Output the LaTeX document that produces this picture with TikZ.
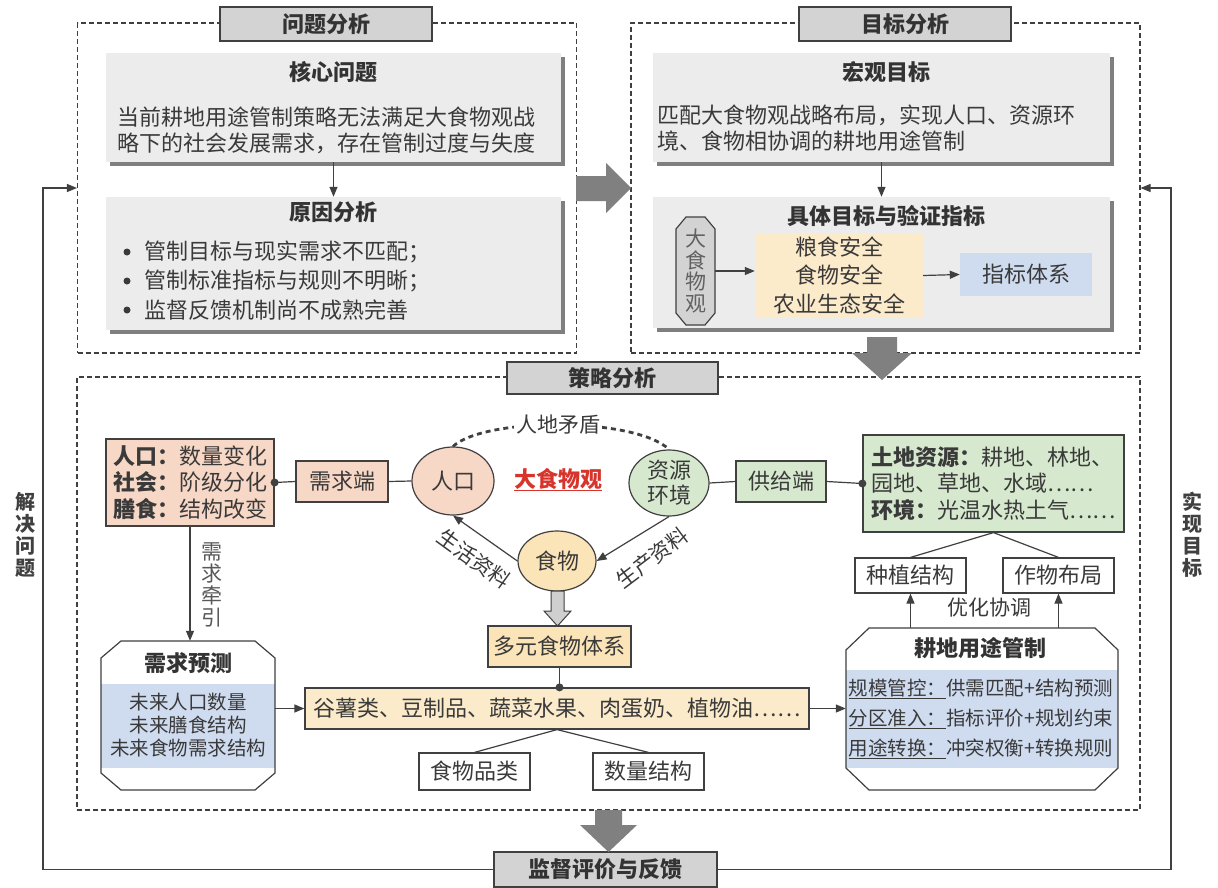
\documentclass[tikz,border=0pt]{standalone}
\usepackage{fontspec}
\setmainfont{Noto Sans CJK SC}
\usetikzlibrary{arrows.meta,calc,shapes.geometric,shadows}
\definecolor{tc}{HTML}{3A3A3A}
\definecolor{lc}{HTML}{404040}
\definecolor{tgray}{HTML}{D3D3D3}
\definecolor{pgray}{HTML}{ECECEC}
\definecolor{agray}{HTML}{808080}
\definecolor{pinkc}{HTML}{F7D7C6}
\definecolor{greenc}{HTML}{D6E9CE}
\definecolor{yelc}{HTML}{FCEBCB}
\definecolor{yeld}{HTML}{FBE4B8}
\definecolor{bluec}{HTML}{CFDBEF}
\definecolor{redc}{HTML}{D7342C}
\definecolor{hollowc}{HTML}{CFCFCF}
\newcommand\fsA{\fontsize{22}{26}\selectfont}
\begin{document}
\begin{tikzpicture}[x=1pt,y=-1pt,font=\fsA,text=tc,
  box/.style={draw=lc,line width=1.2pt,inner sep=0pt,align=center},
  ttl/.style={box,fill=tgray,font=\bfseries\fsA,text=black!80},
  dbox/.style={draw=lc,line width=1.1pt,dash pattern=on 5pt off 3pt,inner sep=0pt},
  panel/.style={fill=pgray,inner sep=0pt,drop shadow={shadow xshift=4pt,shadow yshift=-4pt,opacity=0.5,fill=black}},
  conn/.style={draw=lc,line width=1.2pt},
  arr/.style={conn,-{Triangle[length=10pt,width=8pt]}},
  elp/.style={ellipse,draw=lc,line width=1.2pt,inner sep=0pt,align=center},
  hd/.style={font=\bfseries\fsA,text=black!80,inner sep=0pt},
  plain/.style={inner sep=0pt,align=center},
  bigarr/.style={fill=agray},
  dotline/.style={draw=lc,line width=2.8pt,dash pattern=on 5pt off 4pt}]
\useasboundingbox (0,0) rectangle (1218,888);
\fill[white] (0,0) rectangle (1218,888);

% dashed frames
\node[dbox,minimum width=499pt,minimum height=330pt] (pa) at (327,188) {};
\node[dbox,minimum width=509pt,minimum height=330pt] (pb) at (885.5,188) {};
\node[dbox,minimum width=1063pt,minimum height=433pt] (ps) at (608.5,593.5) {};

% title boxes
\node[ttl,minimum width=212pt,minimum height=34pt] (ta) at (326,24) {问题分析};
\node[ttl,minimum width=212pt,minimum height=34pt] (tb) at (905,24) {目标分析};
\node[ttl,minimum width=211pt,minimum height=32pt] (ts) at (612.5,378) {策略分析};
\node[ttl,minimum width=223pt,minimum height=35pt] (sv) at (605.5,869.5) {监督评价与反馈};

% ---------- problem analysis ----------
\node[panel,minimum width=455pt,minimum height=109pt] (core) at (333.5,107.5) {};
\node[panel,minimum width=455pt,minimum height=133pt] (cause) at (333.5,263.5) {};
\node[hd] (coreT) at (333,72) {核心问题};
\node[plain] (coreX) at (326,130) {当前耕地用途管制策略无法满足大食物观战\\略下的社会发展需求，存在管制过度与失度};
\draw[arr] (core.south) -- (cause.north);
\node[hd] (causeT) at (333,212) {原因分析};
\fill[tc] (127,252) circle (3.5) (127,281) circle (3.5) (127,310) circle (3.5);
\node[plain,anchor=west] (b1) at (144,252) {管制目标与现实需求不匹配；};
\node[plain,anchor=west] (b2) at (144,281) {管制标准指标与规则不明晰；};
\node[plain,anchor=west] (b3) at (144,310) {监督反馈机制尚不成熟完善};

% big arrow right
\fill[bigarr] (576,176) -- (606,176) -- (606,163) -- (631,188) -- (606,213) -- (606,201) -- (576,201) -- cycle;

% ---------- goal analysis ----------
\node[panel,minimum width=457pt,minimum height=109pt] (macro) at (881.5,107.5) {};
\node[panel,minimum width=457pt,minimum height=131pt] (spec) at (881.5,262.5) {};
\node[hd] (macroT) at (886,72) {宏观目标};
\node[plain,anchor=west,align=left] (macroX) at (657,128.5) {匹配大食物观战略布局，实现人口、资源环\\境、食物相协调的耕地用途管制};
\draw[arr] (macro.south) -- (spec.north);
\node[hd] (specT) at (886,216) {具体目标与验证指标};
\draw[fill=tgray,draw=lc,line width=1.2pt] (686,217) -- (705,217) -- (715,229) -- (715,313) -- (705,325) -- (686,325) -- (676,313) -- (676,229) -- cycle;
\node[plain,minimum width=39pt,font=\fontsize{21}{21.5}\selectfont,text=black!62] (dsw) at (695.5,271) {大\\食\\物\\观};
\node[plain,fill=yelc,minimum width=168pt,minimum height=85pt,font=\fontsize{22}{28.5}\selectfont] (yb) at (839,275.5) {粮食安全\\食物安全\\农业生态安全};
\node[plain,fill=bluec,minimum width=132pt,minimum height=43pt] (ib) at (1026,274.5) {指标体系};
\draw[arr] (dsw.east) -- (dsw.east -| yb.west);
\draw[arr] (yb.east) -- (ib.west);

% big arrow down (top)
\fill[bigarr] (867,337) -- (897,337) -- (897,353) -- (912,353) -- (882,380) -- (852,353) -- (867,353) -- cycle;

% ---------- strategy analysis ----------
\node[box,fill=pinkc,minimum width=168pt,minimum height=87pt,align=left,font=\fontsize{22}{26.5}\selectfont] (pk) at (190,482.5) {{\bfseries 人口：}数量变化\\{\bfseries 社会：}阶级分化\\{\bfseries 膳食：}结构改变};
\node[box,fill=pinkc,minimum width=92pt,minimum height=41pt] (dem) at (342,481.5) {需求端};
\node[elp,fill=pinkc,minimum width=82pt,minimum height=68pt] (ppl) at (453,481) {人口};
\node[plain,text=redc,font=\bfseries\fsA] (dsg) at (558,479) {大食物观};
\draw[redc,line width=1pt] ($(dsg.center)+(-44,11)$) -- ($(dsg.center)+(44,11)$);
\node[elp,fill=greenc,minimum width=80pt,minimum height=66pt,font=\fontsize{22}{25}\selectfont] (res) at (669,483) {资源\\环境};
\node[box,fill=greenc,minimum width=90pt,minimum height=41pt] (sup) at (781,481.5) {供给端};
\node[box,fill=greenc,minimum width=261pt,minimum height=97pt,align=left,font=\fontsize{22}{26.5}\selectfont] (gr) at (993.5,483.5) {{\bfseries 土地资源：}耕地、林地、\\园地、草地、水域……\\{\bfseries 环境：}光温水热土气……};

\draw[conn] (pk.east) -- (dem.west);
\fill[lc] (pk.east) circle (4);
\draw[conn] (dem.east) -- (ppl.west);
\draw[conn] (res.east) -- (sup.west);
\draw[conn] (sup.east) -- (gr.west);
\fill[lc] (gr.west) circle (4);

\draw[dotline] (ppl.north) .. controls (485,417) and (635,417) .. (res.north);
\node[fill=white,inner sep=2pt,font=\fontsize{21}{24}\selectfont] (conf) at (558,425) {人地矛盾};

\node[elp,fill=yeld,minimum width=78pt,minimum height=60pt] (fd) at (557,561) {食物};
\draw[arr] (fd.west) -- (ppl.south);
\draw[arr] (res.south) -- (fd.east);
\node[plain,rotate=-36,font=\fontsize{21}{24}\selectfont] (lv) at (474,559) {生活资料};
\node[plain,rotate=37,font=\fontsize{21}{24}\selectfont] (pr) at (652,558) {生产资料};

% hollow arrow
\draw[fill=hollowc,draw=lc,line width=1pt] (551,591) -- (564,591) -- (564,611) -- (571,611) -- (557.5,626) -- (544,611) -- (551,611) -- cycle;

\node[box,fill=yeld,minimum width=143pt,minimum height=41pt] (mf) at (559.5,646.5) {多元食物体系};
\node[box,fill=yelc,minimum width=504pt,minimum height=41pt] (lb) at (557,708.5) {谷薯类、豆制品、蔬菜水果、肉蛋奶、植物油……};
\draw[conn] (mf.south) -- (mf.south |- lb.north);
\fill[lc] (mf.south |- lb.north) circle (4);
\node[box,fill=white,minimum width=111pt,minimum height=37pt] (fc) at (474.5,771.5) {食物品类};
\node[box,fill=white,minimum width=111pt,minimum height=37pt] (qs) at (648.5,771.5) {数量结构};
\draw[conn] (lb.south) -- (fc.north);
\draw[conn] (lb.south) -- (qs.north);

% demand forecast octagon
\fill[white] (121,641) -- (255,641) -- (275,658) -- (275,773) -- (255,790) -- (121,790) -- (101,773) -- (101,658) -- cycle;
\fill[bluec] (101,684) rectangle (275,768);
\draw[lc,line width=1.2pt] (121,641) -- (255,641) -- (275,658) -- (275,773) -- (255,790) -- (121,790) -- (101,773) -- (101,658) -- cycle;
\node[plain,minimum width=174pt,minimum height=149pt] (dp) at (188,715.5) {};
\node[hd] (dpT) at (188,663) {需求预测};
\node[plain,font=\fontsize{19.5}{23}\selectfont] (dpX) at (188,725) {未来人口数量\\未来膳食结构\\未来食物需求结构};
\draw[arr] (pk.south) -- (pk.south |- dp.north);
\node[plain,font=\fontsize{21}{22}\selectfont,text=black!65] (pull) at (212,585) {需\\求\\牵\\引};
\draw[arr] (dp.east |- lb.west) -- (lb.west);

% land use control octagon
\fill[white] (869,628) -- (1095,628) -- (1118,650) -- (1118,768) -- (1095,790) -- (869,790) -- (846,768) -- (846,650) -- cycle;
\fill[bluec] (846,670) rectangle (1118,768);
\draw[lc,line width=1.2pt] (869,628) -- (1095,628) -- (1118,650) -- (1118,768) -- (1095,790) -- (869,790) -- (846,768) -- (846,650) -- cycle;
\node[plain,minimum width=272pt,minimum height=162pt] (lm) at (982,709) {};
\node[hd] (lmT) at (980,648) {耕地用途管制};
\node[plain,align=left,font=\fontsize{19.5}{30}\selectfont] (lmX) at (981,719) {\underline{规模管控：}供需匹配+结构预测\\\underline{分区准入：}指标评价+规划约束\\\underline{用途转换：}冲突权衡+转换规则};
\draw[arr] (lb.east) -- (lb.east -| lm.west);

\node[box,fill=white,minimum width=111pt,minimum height=35pt] (zz) at (910.5,575.5) {种植结构};
\node[box,fill=white,minimum width=111pt,minimum height=35pt] (zb) at (1058.5,575.5) {作物布局};
\draw[conn] (gr.south) -- (zz.north);
\draw[conn] (gr.south) -- (zb.north);
\draw[arr] (zz.south |- lm.north) -- (zz.south);
\draw[arr] (zb.south |- lm.north) -- (zb.south);
\node[plain,font=\fontsize{21}{24}\selectfont] (opt) at (989,608) {优化协调};

% big arrow down (bottom)
\fill[bigarr] (595,810) -- (622,810) -- (622,825) -- (637,825) -- (608.5,852) -- (580,825) -- (595,825) -- cycle;

% feedback loops
\coordinate (fbL) at (43,0);
\coordinate (fbR) at (1171,0);
\draw[arr] (sv.west) -- (sv.west -| fbL) |- (pa.west);
\draw[arr] (sv.east) -- (sv.east -| fbR) |- (pb.east);
\node[plain,font=\bfseries\fontsize{20}{22}\selectfont,text=black!75] (solve) at (25,535) {解\\决\\问\\题};
\node[plain,font=\bfseries\fontsize{20}{22}\selectfont,text=black!75] (real) at (1192,535) {实\\现\\目\\标};
\end{tikzpicture}
\end{document}
